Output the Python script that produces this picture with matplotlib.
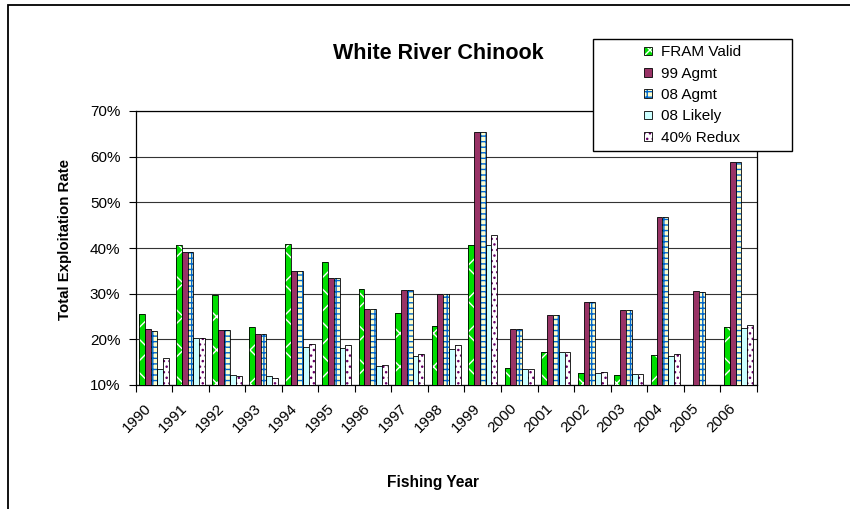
import numpy as np
import matplotlib
matplotlib.use("Agg")
import matplotlib.pyplot as plt
from matplotlib.patches import Patch, Rectangle
from matplotlib.colors import to_rgba
from matplotlib.ticker import FuncFormatter, FixedLocator
from matplotlib.transforms import ScaledTranslation

plt.rcParams['font.family'] = ['Liberation Sans', 'DejaVu Sans']

# Values (percent)
years = [str(y) for y in range(1990, 2007)]
fram_valid = [25.5, 40.6, 29.7, 22.7, 40.8, 36.9, 31.1, 25.7, 22.9, 40.7, 13.8, 17.3, 12.7, 12.1, 16.5, np.nan, 22.6]
agmt_99 = [22.2, 39.2, 22.0, 21.1, 35.0, 33.4, 26.7, 30.8, 30.0, 65.5, 22.3, 25.4, 28.1, 26.5, 46.8, 30.5, 58.8]
agmt_08 = [21.9, 39.2, 22.0, 21.1, 35.0, 33.4, 26.6, 30.8, 30.0, 65.5, 22.3, 25.4, 28.1, 26.5, 46.8, 30.4, 58.8]
likely_08 = [13.4, 20.2, 12.1, 12.0, 18.3, 18.1, 14.1, 16.4, 17.8, 40.7, 13.6, 17.3, 12.7, 12.3, 16.3, np.nan, 22.4]
redux_40 = [15.9, 20.4, 11.9, 11.5, 18.9, 18.8, 14.3, 16.7, 18.8, 42.8, 13.6, 17.2, 12.9, 12.3, 16.7, np.nan, 23.1]

series = [
    ("FRAM Valid", fram_valid, "#00DD00", "white", "x"),
    ("99 Agmt", agmt_99, "#993366", None, None),
    ("08 Agmt", agmt_08, "#FFFFCC", "#0066CC", "+++"),
    ("08 Likely", likely_08, "#CCFFFF", None, None),
    ("40% Redux", redux_40, "white", "#660066", "..."),
]

W, H = 850, 509
fig = plt.figure(figsize=(W / 100, H / 100), dpi=100)
ax = fig.add_axes([135.7 / W, 1 - 385 / H, (756.7 - 135.7) / W, (385 - 111) / H])

x = np.arange(len(years))
width = 0.16
handles = []
for i, (name, vals, face, hcol, hatch) in enumerate(series):
    pos = x + (i - 2) * width
    vals = np.array(vals, dtype=float)
    if hatch:
        # hatch drawn in its own colour, then a black outline on top
        ax.bar(pos, vals, width, facecolor=face, edgecolor=hcol, hatch=hatch,
               linewidth=0, zorder=3)
        ax.bar(pos, vals, width, facecolor="none", edgecolor="black",
               linewidth=0.6, zorder=4)
    else:
        ax.bar(pos, vals, width, facecolor=face, edgecolor="black",
               linewidth=0.6, zorder=3)
    h = Patch(facecolor=face, edgecolor="black", linewidth=0.6, hatch=hatch, label=name)
    if hcol:
        h._hatch_color = to_rgba(hcol)
    handles.append(h)

ax.set_xlim(-0.5, len(years) - 0.5)
ax.set_ylim(10, 70)
ax.set_yticks(np.arange(10, 71, 10))
ax.yaxis.set_major_formatter(FuncFormatter(lambda v, p: f"{v:.0f}%"))
ax.grid(axis='y', color='#333333', linewidth=0.8, zorder=0)
ax.set_axisbelow(True)

ax.set_xticks(x)
ax.set_xticklabels(years, rotation=45, ha='right', fontsize=11)
shift = ScaledTranslation(-3 / 100, 0, fig.dpi_scale_trans)
for lab in ax.get_xticklabels():
    lab.set_transform(lab.get_transform() + shift)
ax.xaxis.set_minor_locator(FixedLocator(np.arange(-0.5, len(years), 1.0)))
ax.tick_params(axis='x', which='major', length=0, pad=12)
ax.tick_params(axis='x', which='minor', length=5, direction='out', width=0.8)
ax.tick_params(axis='y', length=5, direction='out', width=0.8, labelsize=11, pad=6)
for s in ax.spines.values():
    s.set_color('black')
    s.set_linewidth(0.9)

fig.text(438 / W, 1 - 53 / H, "White River Chinook", ha='center', va='center',
         fontsize=15.5, fontweight='bold')
fig.text(65 / W, 1 - 239 / H, "Total Exploitation Rate", ha='center', va='center',
         rotation=90, fontsize=10.8, fontweight='bold')
fig.text(433 / W, 1 - 483 / H, "Fishing Year", ha='center', va='center',
         fontsize=11.2, fontweight='bold')

# chart area border
fig.patches.append(Rectangle((8 / W, -0.2), 1.0, 1.2 - 5 / H, transform=fig.transFigure,
                             facecolor='none', edgecolor='black', linewidth=1.3, zorder=1))

# legend box
lx0, ly0, lx1, ly1 = 592.7, 39.3, 792.3, 150.7
fig.patches.append(Rectangle((lx0 / W, 1 - ly1 / H), (lx1 - lx0) / W, (ly1 - ly0) / H,
                             transform=fig.transFigure, facecolor='white',
                             edgecolor='black', linewidth=1.0, zorder=2))
fig.legend(handles=handles, loc='center', frameon=False, fontsize=11,
           bbox_to_anchor=(lx0 / W, 1 - ly1 / H, (lx1 - lx0) / W, (ly1 - ly0) / H),
           handlelength=0.5, handleheight=0.5, handletextpad=0.6, labelspacing=0.48,
           borderpad=0.2)

fig.savefig("out.png", dpi=100)
